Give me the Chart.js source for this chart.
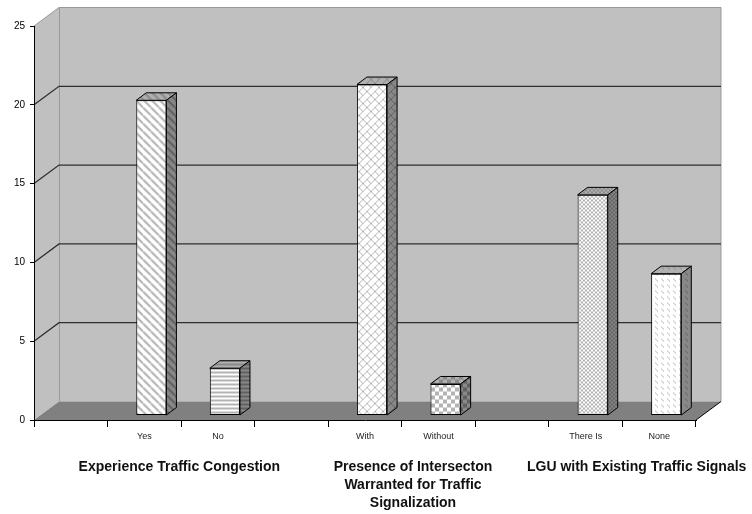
<!DOCTYPE html>
<html>
<head>
<meta charset="utf-8">
<script src="https://cdn.jsdelivr.net/npm/chart.js@4/dist/chart.umd.min.js"></script>
<style>
  html, body { margin: 0; padding: 0; background: #fff; }
  #wrap { width: 752px; height: 514px; }
</style>
</head>
<body>
<div id="wrap"><canvas id="grafico" width="752" height="514"></canvas></div>
<script>
// data
var categorias = ['', 'Yes', 'No', '', 'With', 'Without', '', 'There Is', 'None'];
var valores = [null, 20, 3, null, 21, 2, null, 14, 9];
var padroes = [null, 'diag', 'hstripe', null, 'brick', 'checker', null, 'fine', 'dash'];
var grupos = [
    ['Experience Traffic Congestion'],
    ['Presence of Intersecton', 'Warranted for Traffic', 'Signalization'],
    ['LGU with Existing Traffic Signals']
];
var gruposSlot = [1, 4, 7];
var yMin = 0, yMax = 25, yPasso = 5;

// 3d look
var PAREDE_DX = 25, PAREDE_DY = -18.5;
var BARRA_OX = 7, BARRA_OY = -4.5;
var BARRA_DX = 10, BARRA_DY = -7.5;
var FONTE = '"Liberation Sans", Arial, sans-serif';

function criaPadrao(tipo, fundo, cor){
    var c = document.createElement('canvas');
    var t = 8;
    if(tipo == 'hstripe') t = 4;
    if(tipo == 'fine') t = 4;
    if(tipo == 'brick') t = 16;
    if(tipo == 'dash') t = 6;
    c.width = t; c.height = t;
    var g = c.getContext('2d');
    g.fillStyle = fundo;
    g.fillRect(0, 0, t, t);
    g.fillStyle = cor;
    g.strokeStyle = cor;
    if(tipo == 'diag'){
        g.lineWidth = 2;
        for(var o = -t; o <= t; o += t){
            g.beginPath(); g.moveTo(o, 0); g.lineTo(o + t, t); g.stroke();
        }
    } else if(tipo == 'hstripe'){
        g.fillRect(0, 0, t, 2);
    } else if(tipo == 'checker'){
        g.fillRect(0, 0, 4, 4);
        g.fillRect(4, 4, 4, 4);
    } else if(tipo == 'fine'){
        g.fillRect(0, 0, 2, 2);
        g.fillRect(2, 2, 2, 2);
    } else if(tipo == 'brick'){
        g.lineWidth = 1;
        for(var k = 0; k <= 32; k += 8){
            g.beginPath(); g.moveTo(k, 0); g.lineTo(k - 16, 16); g.stroke();
        }
        var juntas = [[4,4,0,0],[12,12,8,8],[16,8,12,4],[8,16,4,12],[12,4,8,0],[4,12,0,8]];
        juntas.forEach(function(j){
            g.beginPath(); g.moveTo(j[0], j[1]); g.lineTo(j[2], j[3]); g.stroke();
        });
    } else if(tipo == 'dash'){
        g.lineWidth = 1;
        g.beginPath(); g.moveTo(0, 1); g.lineTo(3, 4); g.stroke();
    }
    return document.createElement('canvas').getContext('2d').createPattern(c, 'repeat');
}

var frente = [], topo = [], lado = [];
for(var i in padroes){
    if(padroes[i] == null){
        frente.push('#ffffff'); topo.push('#a0a0a0'); lado.push('#808080');
    } else {
        frente.push(criaPadrao(padroes[i], '#ffffff', '#b4b4b4'));
        topo.push(criaPadrao(padroes[i], '#b0b0b0', '#8a8a8a'));
        lado.push(criaPadrao(padroes[i], '#888888', '#606060'));
    }
}

var paredes = {
    id: 'paredes',
    beforeDraw: function(chart){
        var ctx = chart.ctx, a = chart.chartArea, y = chart.scales.y;
        var L = a.left, R = a.right, T = a.top, B = a.bottom;
        var dx = PAREDE_DX, dy = PAREDE_DY;
        ctx.save();
        ctx.fillStyle = '#c0c0c0';
        ctx.beginPath();
        ctx.moveTo(L, B); ctx.lineTo(L, T); ctx.lineTo(L + dx, T + dy);
        ctx.lineTo(R + dx, T + dy); ctx.lineTo(R + dx, B + dy); ctx.lineTo(L + dx, B + dy);
        ctx.closePath(); ctx.fill();
        ctx.fillStyle = '#808080';
        ctx.beginPath();
        ctx.moveTo(L, B); ctx.lineTo(L + dx, B + dy); ctx.lineTo(R + dx, B + dy); ctx.lineTo(R, B);
        ctx.closePath(); ctx.fill();
        // wall edges
        ctx.strokeStyle = '#999999';
        ctx.lineWidth = 1;
        ctx.beginPath();
        ctx.moveTo(L, T); ctx.lineTo(L + dx, T + dy); ctx.lineTo(R + dx, T + dy); ctx.lineTo(R + dx, B + dy);
        ctx.moveTo(Math.round(L + dx) + 0.5, T + dy); ctx.lineTo(Math.round(L + dx) + 0.5, B + dy);
        ctx.stroke();
        // grid lines
        ctx.strokeStyle = '#2e2e2e';
        ctx.lineWidth = 1.3;
        for(var v = yMin + yPasso; v < yMax; v += yPasso){
            var py = y.getPixelForValue(v);
            ctx.beginPath();
            ctx.moveTo(L, py); ctx.lineTo(L + dx, py + dy); ctx.lineTo(R + dx, py + dy);
            ctx.stroke();
        }
        ctx.strokeStyle = '#000';
        ctx.lineWidth = 1;
        ctx.beginPath(); ctx.moveTo(R, B); ctx.lineTo(R + dx, B + dy); ctx.stroke();
        ctx.restore();
    },
    beforeDatasetsDraw: function(chart){
        chart.ctx.save();
        chart.ctx.translate(BARRA_OX, BARRA_OY);
    },
    afterDatasetsDraw: function(chart){
        var ctx = chart.ctx;
        var meta = chart.getDatasetMeta(0);
        meta.data.forEach(function(bar, i){
            if(valores[i] == null) return;
            var p = bar.getProps(['x', 'y', 'base', 'width'], true);
            var l = p.x - p.width / 2, r = p.x + p.width / 2, t = p.y, b = p.base;
            ctx.lineWidth = 1;
            ctx.strokeStyle = '#000';
            ctx.fillStyle = topo[i];
            ctx.beginPath();
            ctx.moveTo(l, t); ctx.lineTo(l + BARRA_DX, t + BARRA_DY); ctx.lineTo(r + BARRA_DX, t + BARRA_DY); ctx.lineTo(r, t);
            ctx.closePath(); ctx.fill(); ctx.stroke();
            ctx.fillStyle = lado[i];
            ctx.beginPath();
            ctx.moveTo(r, t); ctx.lineTo(r + BARRA_DX, t + BARRA_DY); ctx.lineTo(r + BARRA_DX, b + BARRA_DY); ctx.lineTo(r, b);
            ctx.closePath(); ctx.fill(); ctx.stroke();
        });
        ctx.restore();
    },
    afterDraw: function(chart){
        var ctx = chart.ctx, x = chart.scales.x, a = chart.chartArea;
        var desloc = [35, 48, 51];
        ctx.save();
        ctx.font = 'bold 14px ' + FONTE;
        ctx.fillStyle = '#111';
        ctx.textAlign = 'center';
        ctx.textBaseline = 'middle';
        grupos.forEach(function(linhas, g){
            var cx = x.getPixelForValue(gruposSlot[g]) + desloc[g];
            linhas.forEach(function(txt, k){
                ctx.fillText(txt, cx, a.bottom + 47 + k * 18);
            });
        });
        ctx.restore();
    }
};

var ctx = document.getElementById('grafico').getContext('2d');
var grafico = new Chart(ctx, {
    type: 'bar',
    data: {
        labels: categorias,
        datasets: [{
            label: 'Respostas',
            data: valores,
            backgroundColor: frente,
            borderColor: '#000',
            borderWidth: 1,
            borderSkipped: false,
            barPercentage: 0.41,
            categoryPercentage: 1
        }]
    },
    options: {
        responsive: false,
        animation: false,
        devicePixelRatio: 1,
        layout: { padding: { left: 0, right: 56, top: 26, bottom: 0 } },
        plugins: { legend: { display: false }, tooltip: { enabled: false }, title: { display: false } },
        scales: {
            x: {
                type: 'category',
                offset: true,
                grid: { offset: true, drawOnChartArea: false, drawTicks: true, tickLength: 7, color: '#000' },
                border: { display: true, color: '#000' },
                ticks: { autoSkip: false, maxRotation: 0, color: '#222', font: { size: 9, family: FONTE }, padding: 4 },
                afterFit: function(s){ s.height = 94; }
            },
            y: {
                min: yMin,
                max: yMax,
                grid: { drawOnChartArea: false, drawTicks: true, tickLength: 4, color: '#000' },
                border: { display: true, color: '#000' },
                ticks: { stepSize: yPasso, color: '#000', font: { size: 10, family: FONTE }, padding: 5 },
                afterFit: function(s){ s.width = 34; }
            }
        }
    },
    plugins: [paredes]
});
</script>
</body>
</html>
